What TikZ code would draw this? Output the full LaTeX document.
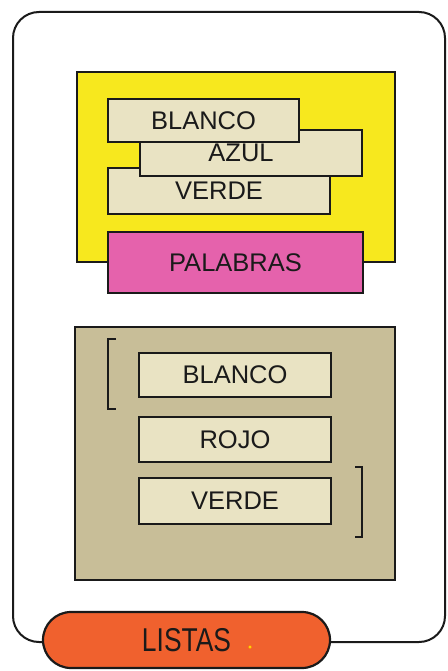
\documentclass[tikz,border=0pt]{standalone}
\usepackage{fontspec}
\setmainfont{Liberation Sans}
\usetikzlibrary{shapes.misc}
\definecolor{yel}{HTML}{F7E81E}
\definecolor{beige}{HTML}{E9E3C3}
\definecolor{tan}{HTML}{C8BE98}
\definecolor{pinkc}{HTML}{E562AC}
\definecolor{orangec}{HTML}{F0612E}
\definecolor{ink}{HTML}{1A1A1A}
\tikzset{
  panel/.style={draw=ink, line width=2.2pt, inner sep=0pt},
  wordbox/.style={panel, fill=beige, font=\fontsize{25.5}{28}\selectfont, text=ink},
  framel/.style={draw=ink, line width=2pt, rounded corners=26pt},
  brk/.style={draw=ink, line width=2pt},
}
\begin{document}
\begin{tikzpicture}[x=1pt,y=-1pt]
\useasboundingbox[fill=white] (0,0) rectangle (447,671);
% outer frame
\coordinate (fa) at (60,642);
\coordinate (fb) at (300,642);
\draw[framel] (fa) -- (13,642) -- (13,12) -- (445,12) -- (445,642) -- (fb);
% upper panel
\node[panel, fill=yel, minimum width=318pt, minimum height=190pt] (yp) at (236,167) {};
\node[wordbox, minimum width=222pt, minimum height=46pt] (verde1) at (219,191) {VERDE};
\node[wordbox, minimum width=222pt, minimum height=46pt, text depth=-4pt] (azul) at (251,153) {\hspace*{-20pt}AZUL};
\node[wordbox, minimum width=191pt, minimum height=43pt] (blanco1) at (203.5,120.5) {BLANCO};
\node[wordbox, fill=pinkc, minimum width=255pt, minimum height=61pt] (palabras) at (235.5,262.5) {PALABRAS};
% lower panel
\node[panel, fill=tan, minimum width=320pt, minimum height=253pt] (tp) at (235,453.5) {};
\node[wordbox, minimum width=192pt, minimum height=44pt] (blanco2) at (235,375) {BLANCO};
\node[wordbox, minimum width=192pt, minimum height=45pt] (rojo) at (235,439.5) {ROJO};
\node[wordbox, minimum width=192pt, minimum height=46pt] (verde2) at (235,501) {VERDE};
\draw[brk] (116,339) -- (108,339) -- (108,409) -- (116,409);
\draw[brk] (355,467) -- (362,467) -- (362,537) -- (355,537);
% pill
\node[draw=ink, line width=2.2pt, fill=orangec, rounded rectangle, minimum width=287pt, minimum height=56pt, inner sep=0pt] (listas) at (186.5,640)
  {\raisebox{-1pt}{\scalebox{0.8}[1]{\fontsize{33}{36}\selectfont\color{ink}LISTAS}}};
\node[circle, fill=yel, draw=orange, line width=0.4pt, inner sep=0pt, minimum size=3.5pt] (dot) at (250,647) {};
\end{tikzpicture}
\end{document}
